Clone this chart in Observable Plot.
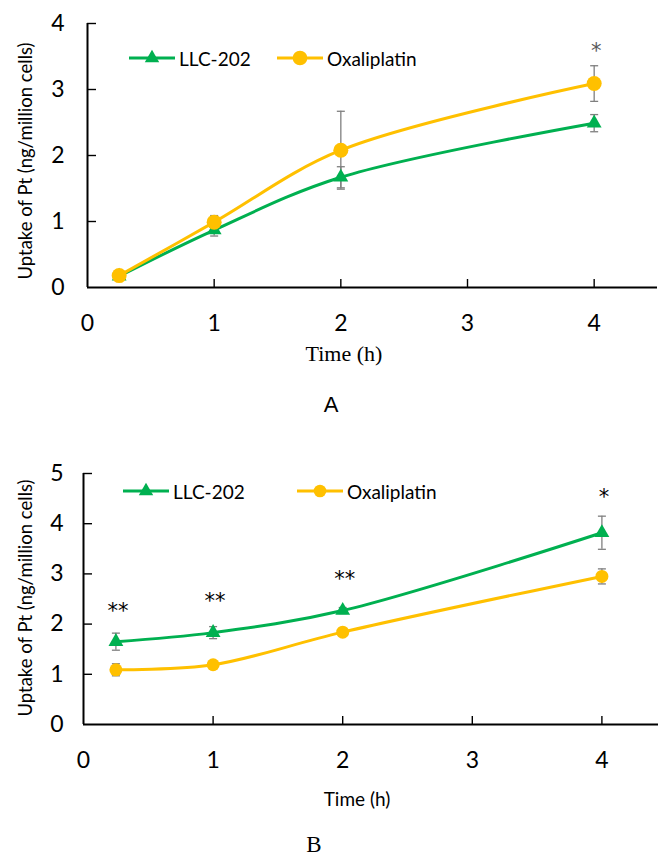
<!DOCTYPE html>
<html><head><meta charset="utf-8">
<script src="https://cdn.jsdelivr.net/npm/d3@7"></script>
<script src="https://cdn.jsdelivr.net/npm/@observablehq/plot@0.6"></script>
<style>
body{margin:0;background:#fff;}
#root{position:relative;width:658px;height:856px;overflow:hidden;font-family:Lato,sans-serif;color:#000;}
.abs{position:absolute;white-space:nowrap;line-height:1;}
.c{transform:translate(-50%,-50%);}
.svgwrap{position:absolute;left:0;}
</style></head><body><div id="root"></div>
<script>
// ---------- data ----------
const times = [0.25, 1, 2, 4];
const xTicks = [0, 1, 2, 3, 4];
const seriesNames = ["LLC-202", "Oxaliplatin"];
const seriesColors = ["#00B050", "#FFC000"];

// Panel A
const aLLC = [0.17, 0.87, 1.67, 2.49];
const aLLCerr = [0.03, 0.09, 0.16, 0.13];
const aOxa = [0.18, 0.99, 2.08, 3.09];
const aOxaErr = [0.03, 0.10, 0.59, 0.27];
const aStars = ["", "", "", "*"];
const aStarY = [0, 0, 0, 3.58];
const aYTicks = [0, 1, 2, 3, 4];

// Panel B
const bLLC = [1.65, 1.83, 2.27, 3.82];
const bLLCerr = [0.17, 0.12, 0.06, 0.33];
const bOxa = [1.09, 1.19, 1.84, 2.95];
const bOxaErr = [0.12, 0.04, 0.07, 0.15];
const bStars = ["**", "**", "**", "*"];
const bStarY = [2.25, 2.45, 2.9, 4.53];
const bYTicks = [0, 1, 2, 3, 4, 5];

// ---------- helpers ----------
const capSymbol = {draw(ctx, size) { const w = Math.sqrt(size / Math.PI); ctx.moveTo(-w, 0); ctx.lineTo(w, 0); }};
const intFmt = d3.format("d");

function rows(name, vals, errs) {
  return times.map((t, i) => ({s: name, t, v: vals[i], lo: vals[i] - errs[i], hi: vals[i] + errs[i]}));
}

function panel(cfg) {
  const llc = rows(seriesNames[0], cfg.llc, cfg.llcErr);
  const oxa = rows(seriesNames[1], cfg.oxa, cfg.oxaErr);
  const all = llc.concat(oxa);
  const stars = times.map((t, i) => ({t, y: cfg.starY[i], txt: cfg.stars[i]})).filter(d => d.txt);
  return Plot.plot({
    width: 658, height: cfg.height,
    marginTop: cfg.mt, marginBottom: cfg.mb, marginLeft: cfg.ml, marginRight: cfg.mr,
    style: {fontFamily: "Lato, sans-serif", color: "#000", background: "transparent", overflow: "visible"},
    x: {domain: [0, cfg.xMax], label: null},
    y: {domain: [0, cfg.yMax], label: null},
    color: {domain: seriesNames, range: seriesColors},
    marks: [
      Plot.axisX(xTicks, {tickSize: 0, tickPadding: 27, fontSize: 23, label: null, fill: "#000", tickFormat: intFmt}),
      Plot.axisY(cfg.yTicks, {tickSize: 0, tickPadding: cfg.ytp, fontSize: 23, label: null, fill: "#000", tickFormat: intFmt}),
      // inward tick marks
      Plot.ruleX(xTicks.slice(1), {x: d => d, y1: 0, y2: 0, insetBottom: 8, stroke: "#000", strokeWidth: 1.4}),
      Plot.ruleY(cfg.yTicks.slice(1), {y: d => d, x1: 0, x2: 0, insetLeft: 9, stroke: "#000", strokeWidth: 1.4}),
      Plot.ruleY([0], {stroke: "#000", strokeWidth: 2}),
      Plot.ruleX([0], {stroke: "#000", strokeWidth: 2}),
      // error bars
      Plot.ruleX(all, {x: "t", y1: "lo", y2: "hi", stroke: "#7f7f7f", strokeWidth: 1.3}),
      Plot.dot(all, {x: "t", y: "lo", symbol: capSymbol, r: 4, stroke: "#7f7f7f", fill: "none", strokeWidth: 1.3}),
      Plot.dot(all, {x: "t", y: "hi", symbol: capSymbol, r: 4, stroke: "#7f7f7f", fill: "none", strokeWidth: 1.3}),
      // lines
      Plot.line(llc, {x: "t", y: "v", stroke: "s", strokeWidth: 3, curve: "catmull-rom"}),
      Plot.dot(llc, {x: "t", y: "v", symbol: "triangle", fill: "s", r: cfg.triR}),
      Plot.line(oxa, {x: "t", y: "v", stroke: "s", strokeWidth: 3, curve: "catmull-rom"}),
      Plot.dot(oxa, {x: "t", y: "v", symbol: "circle", fill: "s", r: cfg.circR}),
      Plot.text(stars, {x: "t", y: "y", text: "txt", fontSize: 21, fontFamily: "DejaVu Sans, sans-serif", fill: cfg.starColor, letterSpacing: "4px", dx: 2})
    ]
  });
}

function legendItem(color, shape, size) {
  const ns = "http://www.w3.org/2000/svg";
  const svg = document.createElementNS(ns, "svg");
  svg.setAttribute("width", 46); svg.setAttribute("height", 20);
  svg.style.verticalAlign = "middle";
  const line = document.createElementNS(ns, "line");
  line.setAttribute("x1", 0); line.setAttribute("x2", 46); line.setAttribute("y1", 10); line.setAttribute("y2", 10);
  line.setAttribute("stroke", color); line.setAttribute("stroke-width", 3);
  svg.appendChild(line);
  const p = document.createElementNS(ns, "path");
  p.setAttribute("d", d3.symbol(shape === "triangle" ? d3.symbolTriangle : d3.symbolCircle, size)());
  p.setAttribute("transform", "translate(23,10)");
  p.setAttribute("fill", color);
  svg.appendChild(p);
  return svg;
}

function addLegend(root, top, items) {
  items.forEach(it => {
    const d = document.createElement("div");
    d.className = "abs";
    d.style.left = it.left + "px"; d.style.top = (top - 10) + "px";
    d.style.fontSize = "19px"; d.style.display = "flex"; d.style.alignItems = "center"; d.style.height = "20px";
    d.appendChild(legendItem(it.color, it.shape, it.size));
    const s = document.createElement("span");
    s.textContent = it.label; s.style.marginLeft = "4px";
    d.appendChild(s);
    root.appendChild(d);
  });
}

function addText(root, txt, x, y, css) {
  const d = document.createElement("div");
  d.className = "abs c"; d.textContent = txt;
  d.style.left = x + "px"; d.style.top = y + "px";
  Object.assign(d.style, css || {});
  root.appendChild(d);
  return d;
}

const root = document.getElementById("root");

// Panel A chart
const wa = document.createElement("div"); wa.className = "svgwrap"; wa.style.top = "0px";
wa.appendChild(panel({llc: aLLC, llcErr: aLLCerr, oxa: aOxa, oxaErr: aOxaErr, stars: aStars, starY: aStarY,
  yTicks: aYTicks, yMax: 4, xMax: 4.5, height: 340, mt: 23, mb: 53, ml: 87, mr: 1, ytp: 23,
  triR: 5.5, circR: 7.5, starColor: "#595959"}));
root.appendChild(wa);

// Panel B chart
const wb = document.createElement("div"); wb.className = "svgwrap"; wb.style.top = "440px";
wb.appendChild(panel({llc: bLLC, llcErr: bLLCerr, oxa: bOxa, oxaErr: bOxaErr, stars: bStars, starY: bStarY,
  yTicks: bYTicks, yMax: 5, xMax: 575 / 129.6, height: 330, mt: 33, mb: 46, ml: 83, mr: 0, ytp: 20,
  triR: 5.5, circR: 6.5, starColor: "#000"}));
root.appendChild(wb);

// legends
addLegend(root, 58, [
  {left: 129, color: seriesColors[0], shape: "triangle", size: 90, label: seriesNames[0]},
  {left: 277, color: seriesColors[1], shape: "circle", size: 170, label: seriesNames[1]}
]);
addLegend(root, 491, [
  {left: 123, color: seriesColors[0], shape: "triangle", size: 90, label: seriesNames[0]},
  {left: 297, color: seriesColors[1], shape: "circle", size: 125, label: seriesNames[1]}
]);

// axis titles and panel letters
const yTitle = "Uptake of Pt (ng/million cells)";
addText(root, yTitle, 25, 161, {transform: "translate(-50%,-50%) rotate(-90deg)", fontSize: "18.5px"});
addText(root, yTitle, 25, 598, {transform: "translate(-50%,-50%) rotate(-90deg)", fontSize: "18.5px"});
addText(root, "Time (h)", 344, 354, {fontFamily: "'Liberation Serif', serif", fontSize: "22px"});
addText(root, "A", 331, 405, {fontFamily: "'Liberation Sans', Arial, sans-serif", fontSize: "22px"});
addText(root, "Time (h)", 357, 798, {fontSize: "19px"});
addText(root, "B", 314, 845, {fontFamily: "'Liberation Serif', serif", fontSize: "23px", lineHeight: "0.85"});
</script></body></html>
